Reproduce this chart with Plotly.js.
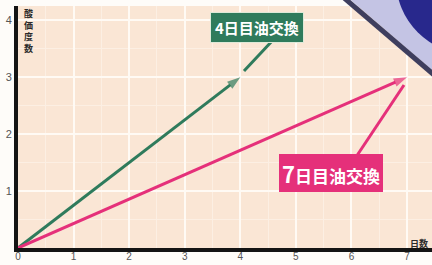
<!DOCTYPE html>
<html>
<head>
<meta charset="utf-8">
<script src="https://cdn.plot.ly/plotly-3.0.1.min.js"></script>
<style>html,body{margin:0;padding:0;background:#fff;}#chart{width:432px;height:265px;}</style>
</head>
<body>
<div id="chart"></div>
<script>
// Data
const days4 = [0, 4];
const degree4 = [0, 3];
const days7 = [0, 7];
const degree7 = [0, 3];
const xTicks = [0, 1, 2, 3, 4, 5, 6, 7];
const yTicks = [1, 2, 3, 4];
const label4 = '4日目油交換';
const label7 = '7日目油交換';
const yTitle = '酸価度数';
const xTitle = '日数';

const green = '#2f7b5c';
const pink = '#e5307a';

function lineTrace(xs, ys, color) {
  return {
    x: xs, y: ys, type: 'scatter', mode: 'lines+markers',
    line: {color: color, width: 3},
    marker: {symbol: xs.map((v, i) => i === xs.length - 1 ? 'arrow' : 'circle'),
             size: xs.map((v, i) => i === xs.length - 1 ? 14 : 0),
             angleref: 'previous', color: color, line: {width: 0}},
    hoverinfo: 'skip', cliponaxis: false
  };
}

const data = [lineTrace(days4, degree4, green), lineTrace(days7, degree7, pink)];

// pixel helpers for paper coordinates (plot area 18..432 x, 6..248 y)
const L = 18, T = 6, W = 414, H = 242;
const px = v => (v - L) / W;
const py = v => (T + H - v) / H;

const annotations = [];
annotations.push({xref: 'paper', yref: 'paper', x: px(28), y: py(5), text: '<b>' + yTitle.split('').join('<br>') + '</b>',
  showarrow: false, xanchor: 'center', yanchor: 'top',
  font: {family: 'Noto Sans CJK JP', size: 9, color: '#2a2a2a'}});
annotations.push({xref: 'paper', yref: 'paper', x: 1, y: py(243), text: '<b>' + xTitle + '</b>',
  showarrow: false, xanchor: 'right', yanchor: 'middle', xshift: -2,
  font: {family: 'Noto Sans CJK JP', size: 9, color: '#2a2a2a'}});
annotations.push({x: 4.3, y: 3.87, xref: 'x', yref: 'y',
  text: '<b>' + label4 + '</b>', showarrow: false,
  bgcolor: green, bordercolor: '#dfe9d8', borderwidth: 1, borderpad: 4,
  font: {family: 'Noto Sans CJK JP', size: 15, color: '#ffffff'}});
annotations.push({x: 5.63, y: 1.31, xref: 'x', yref: 'y',
  text: '<b><span style="font-size:22px">' + label7.charAt(0) + '</span>' + label7.slice(1) + '</b>',
  showarrow: false, bgcolor: pink, borderwidth: 0, borderpad: 3,
  font: {family: 'Noto Sans CJK JP', size: 17, color: '#ffffff'}});

const shapes = [
  // leader lines (callout pointers)
  {type: 'line', xref: 'paper', yref: 'paper', x0: px(273), y0: py(40), x1: px(244), y1: py(71), line: {color: green, width: 3}},
  {type: 'line', xref: 'paper', yref: 'paper', x0: px(352), y0: py(163), x1: px(404), y1: py(85), line: {color: pink, width: 3}},
  // decoration top-right
  {type: 'path', xref: 'paper', yref: 'paper', layer: 'above',
   path: `M ${px(345)},${py(-5)} L ${px(440)},${py(77)} L ${px(440)},${py(-5)} Z`,
   fillcolor: '#c4c4e4', line: {width: 0}},
  {type: 'circle', xref: 'paper', yref: 'paper', layer: 'above',
   x0: px(396), x1: px(544), y0: py(54), y1: py(-94),
   fillcolor: '#28288c', line: {width: 0}},
  {type: 'line', xref: 'paper', yref: 'paper', layer: 'above',
   x0: px(343), y0: py(-3), x1: px(440), y1: py(80),
   line: {color: '#3e3e5e', width: 5}}
];

const layout = {
  width: 432, height: 265,
  margin: {l: L, r: 0, t: T, b: 265 - T - H},
  paper_bgcolor: '#fefcf9', plot_bgcolor: '#fae6d5',
  showlegend: false,
  xaxis: {range: [0, 7.45], tickvals: xTicks, showgrid: true, gridcolor: '#fffaf4', gridwidth: 2,
          minor: {tickmode: 'linear', tick0: 0, dtick: 0.5, showgrid: true, gridcolor: '#fcefe3', gridwidth: 1},
          showline: true, linecolor: '#141414', linewidth: 4, zeroline: false, ticks: '',
          ticklabelstandoff: -4,
          tickfont: {family: 'Liberation Sans', size: 10, color: '#555'}, fixedrange: true},
  yaxis: {range: [0, 4.25], tickvals: yTicks, showgrid: true, gridcolor: '#fffaf4', gridwidth: 2,
          minor: {tickmode: 'linear', tick0: 0, dtick: 0.5, showgrid: true, gridcolor: '#fcefe3', gridwidth: 1},
          showline: true, linecolor: '#141414', linewidth: 4, zeroline: false, ticks: '',
          tickfont: {family: 'Liberation Sans', size: 11, color: '#555'}, fixedrange: true},
  annotations: annotations,
  shapes: shapes
};

Plotly.newPlot('chart', data, layout, {staticPlot: true});
</script>
</body>
</html>
